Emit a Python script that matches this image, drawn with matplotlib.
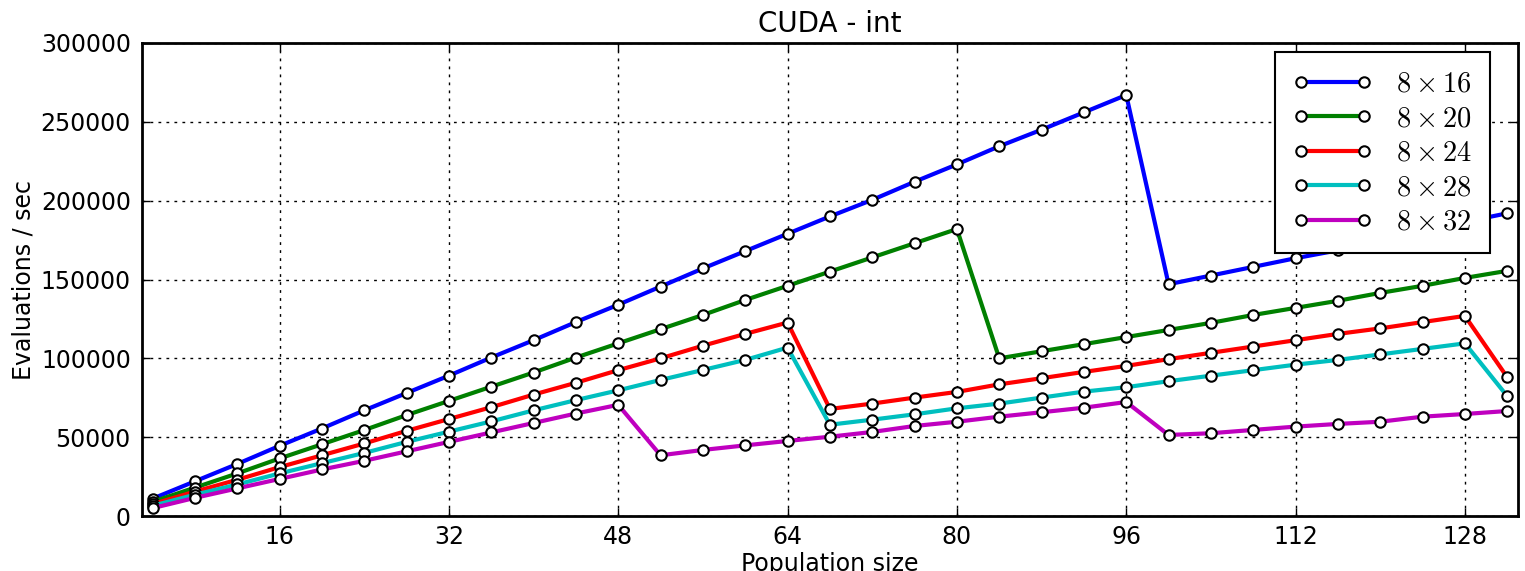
import matplotlib
matplotlib.use("Agg")
from matplotlib import pyplot as plt

# population sizes 4, 8, ..., 132
pop_size = [4, 8, 12, 16, 20, 24, 28, 32, 36, 40, 44, 48, 52, 56, 60, 64,
            68, 72, 76, 80, 84, 88, 92, 96, 100, 104, 108, 112, 116, 120,
            124, 128, 132]

evals_8x16 = [11000, 22000, 33000, 44500, 55500, 67000, 78000, 89000,
              100500, 111500, 123000, 134000, 145500, 157000, 168000, 179000,
              190000, 200500, 212000, 223000, 234500, 245000, 256000, 267000,
              147000, 152500, 158000, 163500, 168500, 174500, 180500, 186500,
              192000]
evals_8x20 = [9000, 18000, 27000, 36500, 45500, 54500, 64000, 73000,
              82000, 91000, 100500, 109500, 118500, 127500, 137000, 146000,
              155000, 164000, 173000, 182000, 100000, 104500, 109000, 113500,
              118000, 122500, 127500, 132000, 136500, 141500, 146000, 151000,
              155500]
evals_8x24 = [7500, 15500, 23000, 31000, 38500, 46000, 54000, 61500,
              69000, 77000, 84500, 92500, 100000, 108000, 115500, 122700,
              67900, 71300, 75100, 78700, 83500, 87400, 91400, 95200,
              99500, 103500, 107500, 111500, 115500, 119000, 123000, 126900,
              88000]
evals_8x28 = [6500, 13500, 20000, 27000, 33500, 40000, 47000, 53500,
              60000, 67000, 73500, 79700, 86300, 92600, 99000, 106800,
              57900, 61100, 64500, 68300, 71300, 75100, 78900, 81700,
              85500, 89000, 92500, 96000, 99000, 102500, 106000, 109500,
              76000]
evals_8x32 = [5000, 11500, 17500, 23500, 29500, 35000, 41000, 47000,
              53000, 59000, 65000, 70500, 38500, 41900, 44800, 47600,
              50300, 53300, 57100, 59800, 63000, 65800, 68700, 72300,
              51400, 52500, 54600, 56700, 58400, 59800, 63000, 64700,
              66600]

series = [
    (r'$8 \times 16$', evals_8x16, (0, 0, 1)),
    (r'$8 \times 20$', evals_8x20, (0, 0.5, 0)),
    (r'$8 \times 24$', evals_8x24, (1, 0, 0)),
    (r'$8 \times 28$', evals_8x28, (0, 0.75, 0.75)),
    (r'$8 \times 32$', evals_8x32, (0.75, 0, 0.75)),
]

plt.rcParams['mathtext.fontset'] = 'cm'

fig = plt.figure(figsize=(15.25, 5.71), dpi=100)
ax = fig.add_axes([0.0931, 0.0963, 0.9022, 0.8284])

for label, vals, col in series:
    ax.plot(pop_size, vals, '-o', color=col, lw=3, label=label,
            markersize=7.5, markerfacecolor='white', markeredgecolor='black',
            markeredgewidth=1.5)

ax.set_xlim(3, 133)
ax.set_ylim(0, 300000)
ax.set_xticks([16, 32, 48, 64, 80, 96, 112, 128])
ax.set_yticks(range(0, 300001, 50000))
ax.grid(True, color='black', linestyle=(0, (2, 3.75)), linewidth=1)
ax.tick_params(direction='in', top=True, right=True, length=6, width=1,
               labelsize=17)
ax.tick_params(axis='x', pad=6.5)
ax.tick_params(axis='y', pad=8)
for s in ax.spines.values():
    s.set_linewidth(2)

ax.set_title('CUDA - int', fontsize=20, pad=8)
ax.set_xlabel('Population size', fontsize=17, labelpad=2)
ax.set_ylabel('Evaluations / sec', fontsize=17)

leg = ax.legend(loc='upper right', bbox_to_anchor=(0.9797, 0.981),
                borderaxespad=0, fontsize=20.5, numpoints=2, handlelength=2.8,
                labelspacing=0.23, fancybox=False, framealpha=1,
                borderpad=0.62, handletextpad=0.85)
leg.get_frame().set_edgecolor('black')
leg.get_frame().set_linewidth(1.5)

fig.savefig('out.png', dpi=100)
